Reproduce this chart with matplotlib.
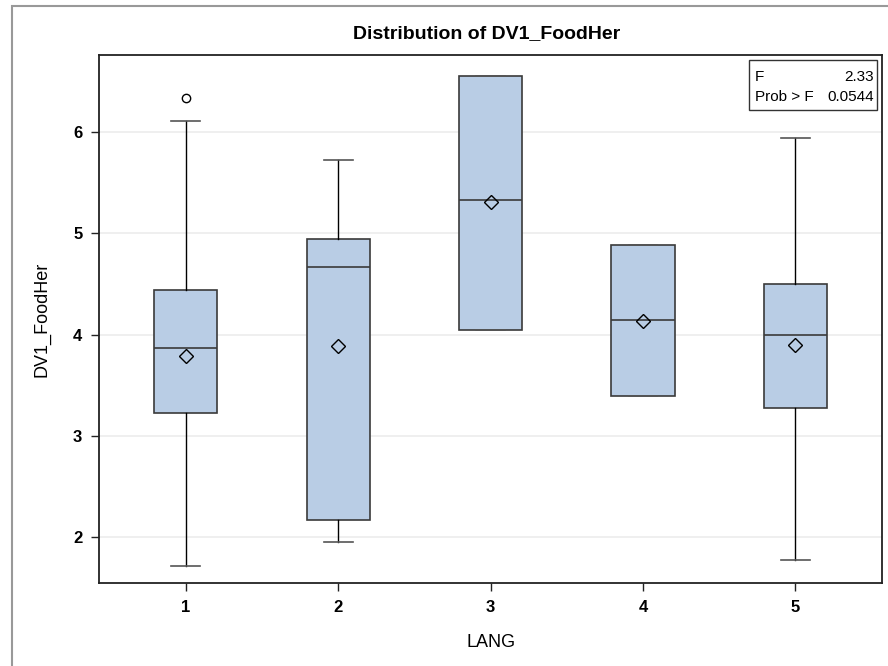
import matplotlib
matplotlib.use("Agg")
import matplotlib.pyplot as plt
from matplotlib.patches import Rectangle

plt.rcParams['font.family'] = ['Liberation Sans', 'DejaVu Sans']

# values
lang = [1, 2, 3, 4, 5]
whisker_low = [1.72, 1.95, 4.05, 3.39, 1.78]
q1 = [3.23, 2.17, 4.05, 3.39, 3.28]
median = [3.87, 4.67, 5.33, 4.14, 4.00]
q3 = [4.44, 4.94, 6.55, 4.88, 4.50]
whisker_high = [6.11, 5.72, 6.55, 4.88, 5.94]
means = [3.79, 3.89, 5.31, 4.13, 3.90]
outliers = [[6.33], [], [], [], []]
f_value = "2.33"
prob_f = "0.0544"

stats = []
for i in range(len(lang)):
    stats.append(dict(label=str(lang[i]), whislo=whisker_low[i], q1=q1[i],
                      med=median[i], q3=q3[i], whishi=whisker_high[i],
                      mean=means[i], fliers=outliers[i]))

fig = plt.figure(figsize=(8.88, 6.66), dpi=100)
ax = fig.add_axes([0.1115, 0.1246, 0.882, 0.793])

edge = '#3a3a3a'
ax.bxp(stats, positions=lang, widths=0.415, showmeans=True, patch_artist=True,
       boxprops=dict(facecolor='#b9cde5', edgecolor=edge, linewidth=1.2),
       medianprops=dict(color=edge, linewidth=1.2),
       whiskerprops=dict(color='black', linewidth=1.0),
       capprops=dict(color='#555555', linewidth=1.2),
       capwidths=0.19,
       meanprops=dict(marker='D', markerfacecolor='none', markeredgecolor='black',
                      markersize=7, markeredgewidth=1.0),
       flierprops=dict(marker='o', markerfacecolor='none', markeredgecolor='black',
                       markersize=6, markeredgewidth=1.0))

ax.set_xlim(0.43, 5.57)
ax.set_ylim(1.55, 6.76)
ax.set_yticks([2, 3, 4, 5, 6])
ax.set_xticks(lang)
ax.set_xticklabels([str(v) for v in lang])
ax.yaxis.grid(True, color='#ececec', linewidth=1.2)
ax.set_axisbelow(True)
for s in ax.spines.values():
    s.set_color('#222222')
    s.set_linewidth(1.3)
ax.tick_params(length=6, width=1.0, color='#222222', labelsize=12, pad=6)
for lab in ax.get_xticklabels() + ax.get_yticklabels():
    lab.set_fontweight('bold')

ax.set_xlabel("LANG", fontsize=13, labelpad=14)
ax.set_ylabel("DV1_FoodHer", fontsize=13, labelpad=16)
fig.text(0.548, 0.95, "Distribution of DV1_FoodHer", ha='center', va='center',
         fontsize=14, fontweight='bold')

# F statistic inset
ax.text(0.837, 0.958, "F", transform=ax.transAxes, ha='left', va='center', fontsize=11)
ax.text(0.989, 0.958, f_value, transform=ax.transAxes, ha='right', va='center', fontsize=11)
ax.text(0.837, 0.920, "Prob > F", transform=ax.transAxes, ha='left', va='center', fontsize=11)
ax.text(0.989, 0.920, prob_f, transform=ax.transAxes, ha='right', va='center', fontsize=11)
ax.add_patch(Rectangle((0.830, 0.896), 0.1636, 0.0945, transform=ax.transAxes,
                       fill=False, edgecolor='#333333', linewidth=1.0))

# outer frame of the exported graph
fig.patches.append(Rectangle((0.0135, -0.1), 1.2, 1.091, transform=fig.transFigure,
                             fill=False, edgecolor='#999999', linewidth=1.5))

fig.savefig("out.png", dpi=100)
